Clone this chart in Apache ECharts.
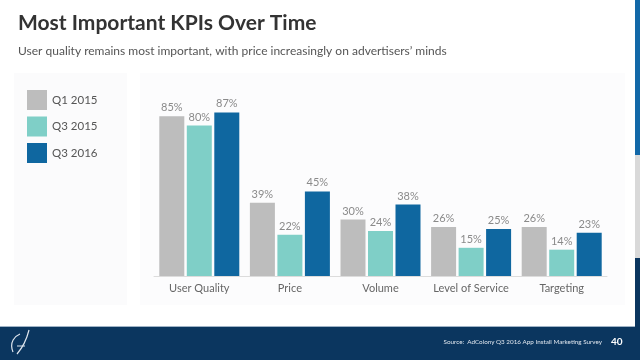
<!DOCTYPE html>
<html>
<head>
<meta charset="utf-8">
<script src="https://cdn.jsdelivr.net/npm/echarts@6/dist/echarts.min.js"></script>
<style>
html,body{margin:0;padding:0;background:#fff;}
#main{width:640px;height:360px;}
</style>
</head>
<body>
<div id="main"></div>
<script>
var categories = ['User Quality', 'Price', 'Volume', 'Level of Service', 'Targeting'];
var seriesNames = ['Q1 2015', 'Q3 2015', 'Q3 2016'];
var q1_2015 = [85, 39, 30, 26, 26];
var q3_2015 = [80, 22, 24, 15, 14];
var q3_2016 = [87, 45, 38, 25, 23];
var colors = ['#bdbdbd', '#7fcfc7', '#0f67a0'];

var chart = echarts.init(document.getElementById('main'));
var fontFam = 'Lato, "Open Sans", sans-serif';
function mk(name, data, i) {
  return {
    name: name, type: 'bar', data: data, barWidth: 25, barGap: '10%',
    itemStyle: {color: colors[i]},
    label: {show: true, position: 'top', distance: 3, formatter: '{c}%', color: '#8a8a8a', fontSize: 11, fontFamily: fontFam},
    silent: true
  };
}
function rect(x, y, w, h, fill, z) {
  return {type: 'rect', shape: {x: x, y: y, width: w, height: h}, style: {fill: fill}, z: z, silent: true};
}
chart.setOption({
  animation: false,
  textStyle: {fontFamily: fontFam},
  title: [
    {text: 'Most Important KPIs Over Time', left: 13, top: 8, textStyle: {fontSize: 21, fontWeight: 'bold', color: '#333', fontFamily: fontFam}},
    {text: 'User quality remains most important, with price increasingly on advertisers\u2019 minds', left: 13, top: 40, textStyle: {fontSize: 12, fontWeight: 'normal', color: '#555', fontFamily: fontFam}}
  ],
  graphic: [
    rect(14, 73, 113, 232, '#fbfbfc', -10),
    rect(140, 73, 485, 232, '#fcfcfd', -10),
    rect(0, 327, 640, 33, '#0b365f', -10),
    rect(0, 326, 640, 1, '#9fb3c6', -9),
    rect(635, 0, 5, 155, '#1268a8', -5),
    rect(635, 155, 5, 103, '#d9d9d9', -5),
    rect(635, 258, 5, 70, '#0b365f', -5),
    {type: 'bezierCurve', shape: {x1: 13, y1: 352, x2: 20, y2: 334, cpx1: 9, cpy1: 342, cpx2: 15, cpy2: 336}, style: {stroke: '#dfe6ee', lineWidth: 1.2, fill: 'none'}},
    {type: 'bezierCurve', shape: {x1: 17, y1: 354, x2: 29, y2: 330, cpx1: 24, cpy1: 346, cpx2: 27, cpy2: 338}, style: {stroke: '#dfe6ee', lineWidth: 1.2, fill: 'none'}},
    {type: 'line', shape: {x1: 17, y1: 346, x2: 25, y2: 346}, style: {stroke: '#dfe6ee', lineWidth: 1}},
    {type: 'text', x: 602, y: 342, style: {text: 'Source:  AdColony Q3 2016 App Install Marketing Survey', fill: '#dfe6ee', fontSize: 6.3, fontFamily: fontFam, textAlign: 'right', textVerticalAlign: 'middle'}},
    {type: 'text', x: 611, y: 342, style: {text: '40', fill: '#ffffff', fontSize: 10, fontWeight: 'bold', fontFamily: fontFam, textVerticalAlign: 'middle'}}
  ],
  legend: {
    orient: 'vertical', left: 27, top: 90, itemWidth: 20, itemHeight: 20, itemGap: 6.5, padding: 0,
    icon: 'rect', data: seriesNames,
    textStyle: {fontSize: 11.5, color: '#555', fontFamily: fontFam, padding: [0, 0, 0, 0]}
  },
  grid: {left: 154, right: 33, top: 88, bottom: 84, containLabel: false},
  xAxis: {
    type: 'category', data: categories,
    axisLine: {lineStyle: {color: '#dcdcdc', width: 1}},
    axisTick: {show: false},
    axisLabel: {color: '#666', fontSize: 11, margin: 7, interval: 0, fontFamily: fontFam}
  },
  yAxis: {
    type: 'value', min: 0, max: 100, show: false, splitLine: {show: false}
  },
  series: [mk(seriesNames[0], q1_2015, 0), mk(seriesNames[1], q3_2015, 1), mk(seriesNames[2], q3_2016, 2)]
});
</script>
</body>
</html>
